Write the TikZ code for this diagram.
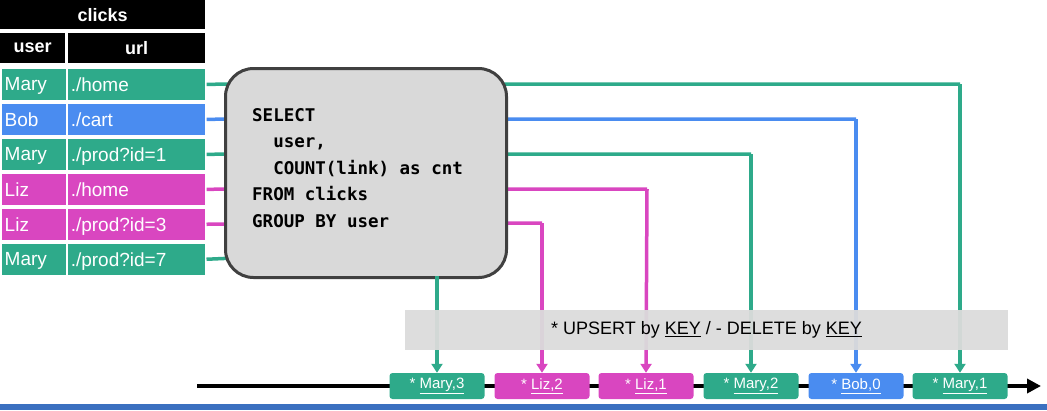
\documentclass[tikz,border=0pt]{standalone}
\usepackage{fontspec}
\setmainfont{Liberation Sans}
\newfontfamily\sqlfont{DejaVu Sans Mono}
\usetikzlibrary{arrows.meta}
\definecolor{gr}{HTML}{2EAA8A}
\definecolor{bl}{HTML}{4A8CF0}
\definecolor{mg}{HTML}{D946C0}
\begin{document}
\begin{tikzpicture}[x=1pt,y=-1pt,
 cell/.style={draw=white,line width=1.5pt,minimum height=33pt,anchor=north west,text=white,font=\fontsize{19}{19}\selectfont,inner sep=4pt,text depth=0pt},
 hd/.style={fill=black,text=white,font=\bfseries\fontsize{18}{18}\selectfont,anchor=north west,inner sep=0pt},
 ln/.style={line width=3.5pt},
 ar/.style={line width=3.5pt,-{Triangle[length=9pt,width=11pt]}},
 ev/.style={rounded corners=3pt,minimum width=95pt,minimum height=26pt,text=white,font=\fontsize{15}{15}\selectfont,inner sep=0pt}]
\useasboundingbox (0,0) rectangle (1047,410);
\fill[bl!80!black] (0,404) rectangle (1047,410);
% table
\node[hd,minimum width=205pt,minimum height=29pt] (title) at (0,0) {clicks};
\node[hd,minimum width=65pt,minimum height=30pt] (hu) at (0,33) {user};
\node[hd,minimum width=137pt,minimum height=30pt] (hl) at (68,33) {url};
\foreach \i/\u/\l/\c/\y in {1/Mary/{./home}/gr/67,2/Bob/{./cart}/bl/102,3/Mary/{./prod?id=1}/gr/137,4/Liz/{./home}/mg/172,5/Liz/{./prod?id=3}/mg/207,6/Mary/{./prod?id=7}/gr/242}{
 \node[cell,fill=\c,minimum width=67pt,text width=59pt,align=left] (u\i) at (0,\y) {\u};
 \node[cell,fill=\c,minimum width=139pt,text width=131pt,align=left] (r\i) at (66,\y) {\l};
}
% lines
\coordinate (k1) at (960,84); \coordinate (k2) at (856,119); \coordinate (k3) at (751,154);
\coordinate (k4) at (647,189); \coordinate (k5) at (542,223);
% events
\draw[line width=4pt,-{Triangle[length=14pt,width=14pt]}] (197,386) -- (1041,386);
\node[ev,fill=gr] (e1) at (437,386) {* \underline{Mary,3}};
\node[ev,fill=mg] (e2) at (542,386) {* \underline{Liz,2}};
\node[ev,fill=mg] (e3) at (646,386) {* \underline{Liz,1}};
\node[ev,fill=gr] (e4) at (751,386) {* \underline{Mary,2}};
\node[ev,fill=bl] (e5) at (856,386) {* \underline{Bob,0}};
\node[ev,fill=gr] (e6) at (960,386) {* \underline{Mary,1}};
\draw[ln,gr] (r1.east) -- (k1); \draw[ar,gr] (k1) -- (e6.north);
\draw[ln,bl] (r2.east) -- (k2); \draw[ar,bl] (k2) -- (e5.north);
\draw[ln,gr] (r3.east) -- (k3); \draw[ar,gr] (k3) -- (e4.north);
\draw[ln,mg] (r4.east) -- (k4); \draw[ar,mg] (k4) -- (e3.north);
\draw[ln,mg] (r5.east) -- (k5); \draw[ar,mg] (k5) -- (e2.north);
\draw[ln,gr] (r6.east) -- (235,258);
% sql box
\node[draw=black!75,line width=3pt,fill=black!15,rounded corners=28pt,minimum width=281pt,minimum height=209pt,anchor=north west] (sql) at (224,67) {};
\draw[ar,gr] (437,276) -- (e1.north);
\node[anchor=north west,align=left,font=\sqlfont\bfseries\fontsize{17.5}{26.5}\selectfont,inner sep=0pt] (code) at (252,108) {SELECT\\\ \ user,\\\ \ COUNT(link) as cnt\\FROM clicks\\GROUP BY user};
% band
\node[fill=black!14,opacity=0.95,text opacity=1,minimum width=603pt,minimum height=40pt,font=\fontsize{18}{18}\selectfont] (band) at (706.5,330) {* UPSERT by \underline{KEY} / - DELETE by \underline{KEY}};
\end{tikzpicture}
\end{document}
